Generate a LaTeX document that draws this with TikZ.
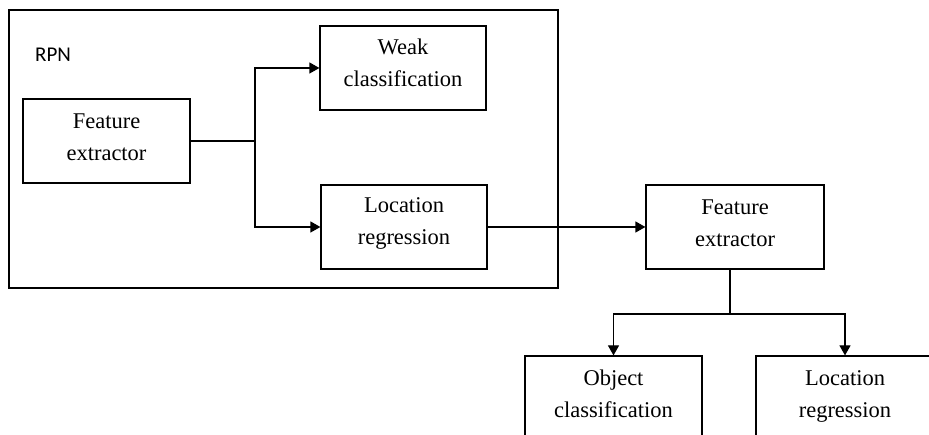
\documentclass[tikz,border=0pt]{standalone}
\usepackage{fontspec}
\setmainfont{Liberation Serif}
\newfontfamily\rpnfont{Carlito}
\usetikzlibrary{arrows.meta}
\begin{document}
\begin{tikzpicture}[x=1pt,y=-1pt,
  box/.style={draw, line width=1.2pt, inner sep=0pt, minimum height=84pt},
  txt/.style={align=center, inner sep=0pt, font=\fontsize{22.5}{32}\selectfont},
  conn/.style={line width=1.2pt},
  arr/.style={conn, -{Triangle[length=10pt,width=11pt]}}]
\useasboundingbox (0,0) rectangle (929,435);
\clip (0,0) rectangle (929,435);
\node[draw, line width=1.2pt, minimum width=549pt, minimum height=278pt, inner sep=0pt] (rpn) at (283.5,149) {};
\node[anchor=west, inner sep=0pt, font=\rpnfont\fontsize{21}{25}\selectfont] (rpnlabel) at (35,55) {RPN};
\node[box, minimum width=167pt] (fe1) at (106.5,141) {};
\node[txt] (fe1t) at ([yshift=4pt]fe1.center) {Feature\\extractor};
\node[box, minimum width=166pt] (weak) at (403,68) {};
\node[txt] (weakt) at ([yshift=5pt]weak.center) {Weak\\classification};
\node[box, minimum width=166pt] (loc1) at (404,227) {};
\node[txt] (loc1t) at ([yshift=4pt]loc1.center) {Location\\regression};
\node[box, minimum width=178pt] (fe2) at (735,227) {};
\node[txt] (fe2t) at ([yshift=4pt]fe2.center) {Feature\\extractor};
\node[box, minimum width=177pt] (oc) at (613.5,398) {};
\node[txt] (oct) at ([yshift=4pt]oc.center) {Object\\classification};
\node[box, minimum width=178pt] (lr2) at (845,398) {};
\node[txt] (lr2t) at ([yshift=2pt]lr2.center) {Location\\regression};
\coordinate (j1) at (255,141);
\coordinate (j2) at (730,314);
\draw[line width=2.2pt] (fe1.east) -- (j1);
\draw[arr] (j1) |- (weak.west);
\draw[arr] (j1) |- (loc1.west);
\draw[arr] (loc1.east) -- (fe2.west);
\draw[conn] (fe2.south -| j2) -- (j2);
\draw[arr] (j2) -| (oc.north);
\draw[arr] (j2) -| (lr2.north);
\end{tikzpicture}
\end{document}
